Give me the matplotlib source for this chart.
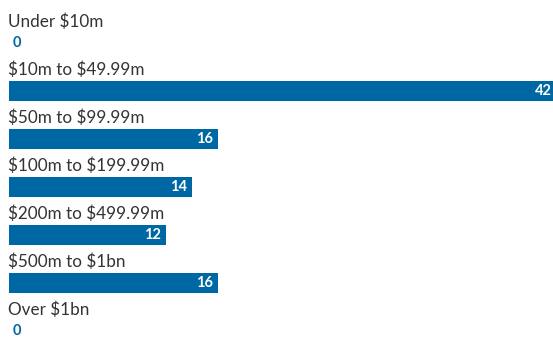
import matplotlib
matplotlib.use("Agg")
import matplotlib.pyplot as plt

plt.rcParams["text.parse_math"] = False

categories = ["Under $10m", "$10m to $49.99m", "$50m to $99.99m", "$100m to $199.99m",
              "$200m to $499.99m", "$500m to $1bn", "Over $1bn"]
values = [0, 42, 16, 14, 12, 16, 0]

color = "#0067a5"
fig = plt.figure(figsize=(5.53, 3.37), dpi=100)
ax = fig.add_axes([9/553, 0, 1 - 9/553, 1])
ypos = list(range(len(categories)))
ax.barh(ypos, values, height=20/48, color=color)
ax.set_xlim(0, 41.7)
ax.set_ylim((337 - 43) / 48, -43 / 48)
ax.axis("off")

for i, (c, v) in enumerate(zip(categories, values)):
    ax.annotate(c, xy=(0, i), xytext=(-1, 21), textcoords="offset pixels",
                ha="left", va="center", fontsize=12.3, family="Lato", color="#333333",
                annotation_clip=False)
    if v == 0:
        ax.annotate(str(v), xy=(0, i), xytext=(4, 0), textcoords="offset pixels",
                    ha="left", va="center", fontsize=10.5, fontweight="bold",
                    family="Lato", color=color, annotation_clip=False)
    else:
        ax.annotate(str(v), xy=(v, i), xytext=(-5, 0), textcoords="offset pixels",
                    ha="right", va="center", fontsize=10.5, fontweight="bold",
                    family="Lato", color="white", annotation_clip=False)

fig.savefig("out.png", dpi=100)
